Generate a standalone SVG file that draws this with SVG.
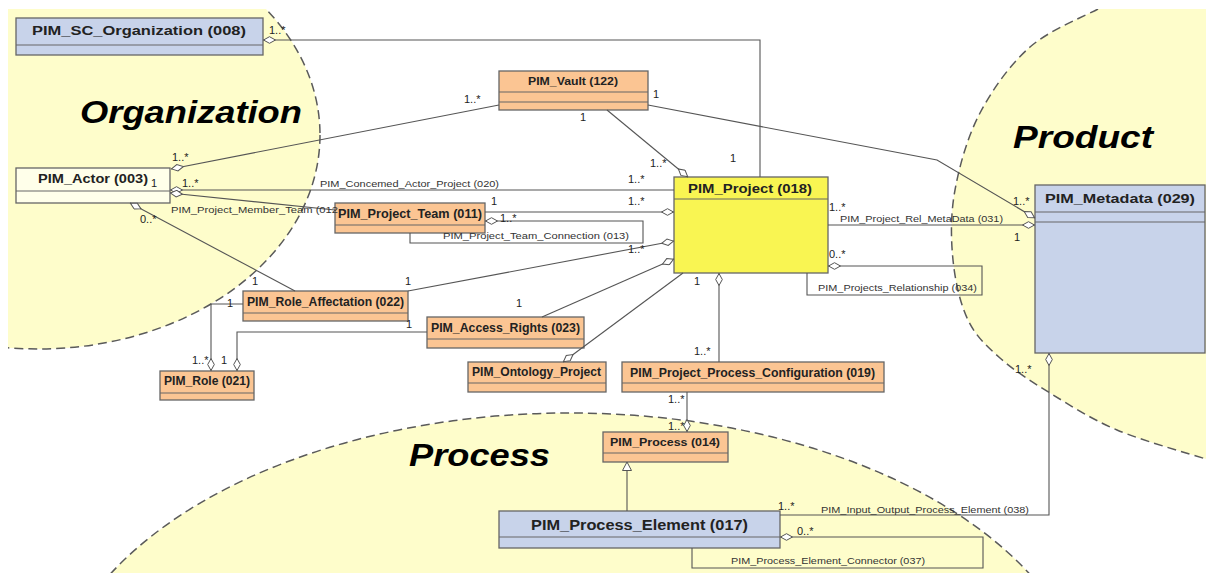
<svg xmlns="http://www.w3.org/2000/svg" width="1206" height="573" viewBox="0 0 1206 573">
<style>
.reg{fill:#FEFDCB;stroke:none}
.regline{fill:none;stroke:#5a5a5a;stroke-width:1.5;stroke-dasharray:9 5}
.rlab{font-family:"Liberation Sans",Arial,sans-serif;font-weight:bold;font-style:italic;font-size:31px;fill:#000}
.box{stroke:#666;stroke-width:1.3}
.or{fill:#FBC593}
.bl{fill:#C8D3EA}
.ye{fill:#F9F552}
.cr{fill:#FFFFEA}
.div{stroke:#666;stroke-width:1.2;fill:none}
.t{font-family:"Liberation Sans",Arial,sans-serif;font-weight:bold;fill:#222}
.ln{fill:none;stroke:#555;stroke-width:1.1}
.m{font-family:"Liberation Sans",Arial,sans-serif;font-size:11px;fill:#222}
.e{font-family:"Liberation Sans",Arial,sans-serif;font-size:9px;fill:#333}
</style>
<defs>
<clipPath id="pg"><rect x="8" y="9" width="1198" height="564"/></clipPath>
<marker id="dia" viewBox="0 -4 13 8" refX="0" refY="0" markerWidth="13" markerHeight="8" markerUnits="userSpaceOnUse" orient="auto">
<path d="M0.5,0 L6.5,-3.3 L12.5,0 L6.5,3.3 Z" fill="#fff" stroke="#555" stroke-width="1"/>
</marker>
<marker id="tri" viewBox="0 -5 10 10" refX="9.5" refY="0" markerWidth="10" markerHeight="10" markerUnits="userSpaceOnUse" orient="auto">
<path d="M1,-4.5 L9.5,0 L1,4.5 Z" fill="#fff" stroke="#555" stroke-width="1"/>
</marker>
</defs>
<rect width="1206" height="573" fill="#fff"/>
<g id="regions" clip-path="url(#pg)">
<ellipse class="reg" cx="38" cy="135" rx="282" ry="214"/>
<ellipse class="reg" cx="570" cy="719" rx="522" ry="306"/>
<path class="reg" d="M1098,9 C1086.7,15.3 1049.7,29.7 1030,47 C1010.3,64.3 992.5,89.2 980,113 C967.5,136.8 959.5,165.5 955,190 C950.5,214.5 950.8,238.3 953,260 C955.2,281.7 960.2,303.7 968,320 C975.8,336.3 986.3,345.8 1000,358 C1013.7,370.2 1030.5,381 1050,393 C1069.5,405 1091,419 1117,430 C1143,441 1191.2,454.2 1206,459 L1206,9 Z"/>
<ellipse class="regline" cx="38" cy="135" rx="282" ry="214"/>
<ellipse class="regline" cx="570" cy="719" rx="522" ry="306"/>
<path class="regline" d="M1098,9 C1086.7,15.3 1049.7,29.7 1030,47 C1010.3,64.3 992.5,89.2 980,113 C967.5,136.8 959.5,165.5 955,190 C950.5,214.5 950.8,238.3 953,260 C955.2,281.7 960.2,303.7 968,320 C975.8,336.3 986.3,345.8 1000,358 C1013.7,370.2 1030.5,381 1050,393 C1069.5,405 1091,419 1117,430 C1143,441 1191.2,454.2 1206,459"/>
<text class="rlab" x="80" y="123" textLength="222" lengthAdjust="spacingAndGlyphs">Organization</text>
<text class="rlab" x="1013" y="148" textLength="140" lengthAdjust="spacingAndGlyphs">Product</text>
<text class="rlab" x="409" y="466" textLength="141" lengthAdjust="spacingAndGlyphs">Process</text>
</g>
<g id="n008"><rect class="box bl" x="16" y="18" width="247" height="37"/><line class="div" x1="16" y1="45" x2="263" y2="45"/><text class="t" x="32" y="35" font-size="12.5" textLength="214" lengthAdjust="spacingAndGlyphs">PIM_SC_Organization (008)</text></g>
<g id="n122"><rect class="box or" x="499" y="71" width="149" height="39"/><line class="div" x1="499" y1="92" x2="648" y2="92"/><line class="div" x1="499" y1="102" x2="648" y2="102"/><text class="t" x="528" y="85" font-size="11" textLength="90" lengthAdjust="spacingAndGlyphs">PIM_Vault (122)</text></g>
<g id="n029"><rect class="box bl" x="1035" y="185" width="170" height="168"/><line class="div" x1="1035" y1="212" x2="1205" y2="212"/><line class="div" x1="1035" y1="222" x2="1205" y2="222"/><text class="t" x="1045" y="203" font-size="13.5" textLength="150" lengthAdjust="spacingAndGlyphs">PIM_Metadata (029)</text></g>
<g id="n018"><rect class="box ye" x="674" y="177" width="154" height="96"/><line class="div" x1="674" y1="199" x2="828" y2="199"/><text class="t" x="688" y="192.5" font-size="13.5" textLength="124" lengthAdjust="spacingAndGlyphs">PIM_Project (018)</text></g>
<g id="n003"><rect class="box cr" x="16" y="168" width="154" height="35"/><line class="div" x1="16" y1="191" x2="170" y2="191"/><text class="t" x="38" y="183" font-size="13.5" textLength="110" lengthAdjust="spacingAndGlyphs">PIM_Actor (003)</text></g>
<g id="n011"><rect class="box or" x="335" y="203" width="150" height="30"/><line class="div" x1="335" y1="225" x2="485" y2="225"/><text class="t" x="338" y="218" font-size="13" textLength="144" lengthAdjust="spacingAndGlyphs">PIM_Project_Team (011)</text></g>
<g id="n022"><rect class="box or" x="243" y="291" width="165" height="30"/><line class="div" x1="243" y1="313" x2="408" y2="313"/><text class="t" x="247" y="305.5" font-size="13" textLength="157" lengthAdjust="spacingAndGlyphs">PIM_Role_Affectation (022)</text></g>
<g id="n023"><rect class="box or" x="427" y="317" width="157" height="31"/><line class="div" x1="427" y1="339" x2="584" y2="339"/><text class="t" x="431" y="332" font-size="13" textLength="149" lengthAdjust="spacingAndGlyphs">PIM_Access_Rights (023)</text></g>
<g id="nOnto"><rect class="box or" x="468" y="362" width="138" height="30"/><line class="div" x1="468" y1="383" x2="606" y2="383"/><text class="t" x="472" y="375.5" font-size="12.5" textLength="129" lengthAdjust="spacingAndGlyphs">PIM_Ontology_Project</text></g>
<g id="n021"><rect class="box or" x="160" y="371" width="94" height="29"/><line class="div" x1="160" y1="393" x2="254" y2="393"/><text class="t" x="164" y="385" font-size="12.5" textLength="86" lengthAdjust="spacingAndGlyphs">PIM_Role (021)</text></g>
<g id="n019"><rect class="box or" x="622" y="362" width="262" height="30"/><line class="div" x1="622" y1="383" x2="884" y2="383"/><text class="t" x="630" y="377" font-size="12.5" textLength="245" lengthAdjust="spacingAndGlyphs">PIM_Project_Process_Configuration (019)</text></g>
<g id="n014"><rect class="box or" x="603" y="432" width="125" height="30"/><line class="div" x1="603" y1="453" x2="728" y2="453"/><text class="t" x="610" y="446" font-size="11" textLength="110" lengthAdjust="spacingAndGlyphs">PIM_Process (014)</text></g>
<g id="n017"><rect class="box bl" x="499" y="511" width="281" height="37"/><line class="div" x1="499" y1="537" x2="780" y2="537"/><text class="t" x="531" y="530" font-size="14.5" textLength="217" lengthAdjust="spacingAndGlyphs">PIM_Process_Element (017)</text></g>
<g id="connectors">
<path class="ln" marker-start="url(#dia)" d="M263,40 H760 V177"/>
<path class="ln" marker-start="url(#dia)" d="M171,169 L499,105"/>
<path class="ln" marker-start="url(#dia)" d="M688,177 L607,110"/>
<path class="ln" marker-start="url(#dia)" d="M1035,218 L937,160 L648,105"/>
<path class="ln" marker-start="url(#dia)" d="M170,190 H674"/>
<path class="ln" marker-start="url(#dia)" d="M170,193 L335,210"/>
<path class="ln" marker-start="url(#dia)" d="M674,212 H485"/>
<path class="ln" marker-start="url(#dia)" d="M485,221 H643 V243 H410 V233"/>
<path class="ln" marker-start="url(#dia)" d="M674,241 L408,291"/>
<path class="ln" marker-start="url(#dia)" d="M674,259 L542,317"/>
<path class="ln" marker-start="url(#dia)" d="M563,362 L683,273"/>
<path class="ln" marker-start="url(#dia)" d="M130,203 L295,291"/>
<path class="ln" marker-start="url(#dia)" d="M211,371 V304 H243"/>
<path class="ln" marker-start="url(#dia)" d="M237,371 V332 H427"/>
<path class="ln" marker-start="url(#dia)" d="M719,273 V362"/>
<path class="ln" marker-start="url(#dia)" d="M1035,225 H828"/>
<path class="ln" marker-start="url(#dia)" d="M828,266 H982 V295 H807 V273"/>
<path class="ln" marker-start="url(#dia)" d="M687,432 V392"/>
<path class="ln" marker-end="url(#tri)" d="M627,511 V462"/>
<path class="ln" marker-start="url(#dia)" d="M1049,353 V515 H780"/>
<path class="ln" marker-start="url(#dia)" d="M780,537 H983 V568 H692 V548"/>
<text class="e" x="320" y="187" textLength="179" lengthAdjust="spacingAndGlyphs">PIM_Concemed_Actor_Project (020)</text>
<text class="e" x="171" y="213" textLength="167" lengthAdjust="spacingAndGlyphs">PIM_Project_Member_Team (012</text>
<text class="e" x="443" y="239" textLength="186" lengthAdjust="spacingAndGlyphs">PIM_Project_Team_Connection (013)</text>
<text class="e" x="840" y="221.5" textLength="163" lengthAdjust="spacingAndGlyphs">PIM_Project_Rel_MetaData (031)</text>
<text class="e" x="818" y="291" textLength="159" lengthAdjust="spacingAndGlyphs">PIM_Projects_Relationship (034)</text>
<text class="e" x="821" y="513" textLength="208" lengthAdjust="spacingAndGlyphs">PIM_Input_Output_Process_Element (038)</text>
<text class="e" x="731" y="564" textLength="194" lengthAdjust="spacingAndGlyphs">PIM_Process_Element_Connector (037)</text>
<text class="m" x="269" y="34">1..*</text>
<text class="m" x="464" y="103">1..*</text>
<text class="m" x="580" y="121">1</text>
<text class="m" x="653" y="98">1</text>
<text class="m" x="650" y="167">1..*</text>
<text class="m" x="730" y="162">1</text>
<text class="m" x="628" y="183">1..*</text>
<text class="m" x="172" y="161">1..*</text>
<text class="m" x="182" y="187">1..*</text>
<text class="m" x="151" y="187">1</text>
<text class="m" x="491" y="205">1</text>
<text class="m" x="628" y="205">1..*</text>
<text class="m" x="500" y="222">1..*</text>
<text class="m" x="628" y="253">1..*</text>
<text class="m" x="405" y="285">1</text>
<text class="m" x="516" y="307">1</text>
<text class="m" x="406" y="328">1</text>
<text class="m" x="140" y="223">0..*</text>
<text class="m" x="252" y="285">1</text>
<text class="m" x="227" y="307">1</text>
<text class="m" x="192" y="364">1..*</text>
<text class="m" x="221" y="364">1</text>
<text class="m" x="829" y="211">1..*</text>
<text class="m" x="829" y="258">0..*</text>
<text class="m" x="694" y="285">1</text>
<text class="m" x="694" y="355">1..*</text>
<text class="m" x="1013" y="205">1..*</text>
<text class="m" x="1014" y="241">1</text>
<text class="m" x="1015" y="373">1..*</text>
<text class="m" x="668" y="403">1..*</text>
<text class="m" x="668" y="430">1..*</text>
<text class="m" x="778" y="510">1..*</text>
<text class="m" x="797" y="535">0..*</text>
</g>
</svg>
